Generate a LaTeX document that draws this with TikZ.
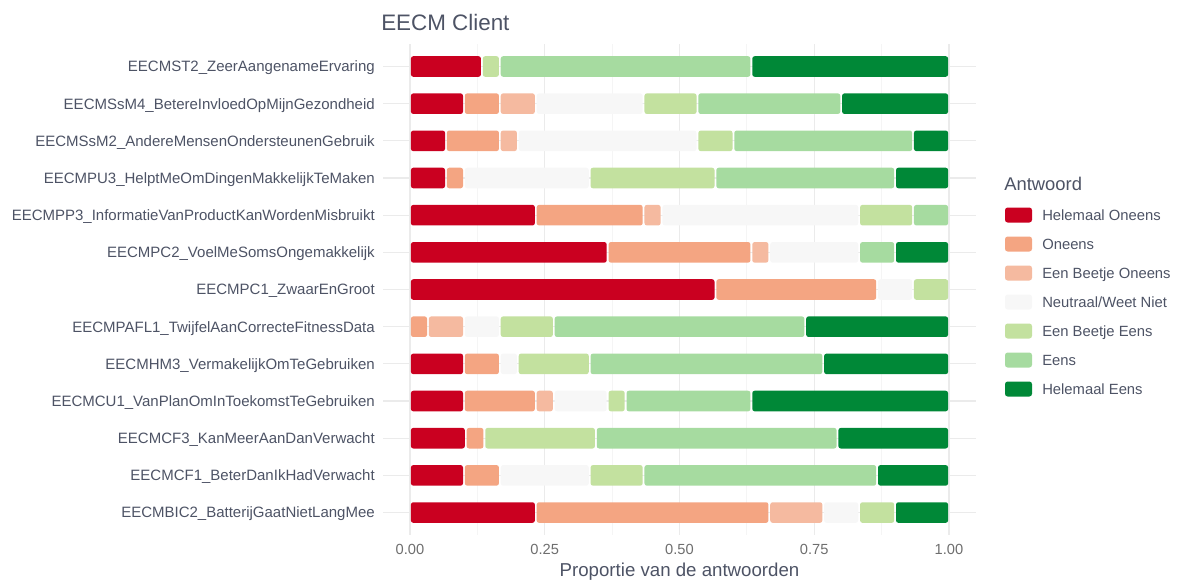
\documentclass[tikz,border=0pt]{standalone}
\usepackage{fontspec}
\setmainfont{Liberation Sans}
\usepackage{tikz}

\definecolor{ho}{HTML}{CA0020}
\definecolor{on}{HTML}{F4A582}
\definecolor{eo}{HTML}{F5BAA0}
\definecolor{nt}{HTML}{F7F7F7}
\definecolor{eb}{HTML}{C3E19F}
\definecolor{ee}{HTML}{A6DBA0}
\definecolor{he}{HTML}{008837}
\definecolor{txt}{HTML}{4D5365}
\definecolor{tck}{HTML}{6E6E6E}

\tikzset{
  major/.style={draw=black!8, line width=0.9pt},
  minor/.style={draw=black!4, line width=0.6pt},
  ylab/.style={anchor=base east, inner sep=0pt, text=txt, font=\fontsize{11.25}{13}\selectfont},
  ticklab/.style={anchor=base, inner sep=0pt, text=tck, font=\fontsize{11}{13}\selectfont},
  legtext/.style={anchor=base west, inner sep=0pt, text=txt, font=\fontsize{11.1}{13}\selectfont}
}

% one piece of a bar: from, to (counts), colour
\newcommand{\barseg}[3]{%
  \ifdim #2pt>#1pt
    \fill[#3, rounded corners=1.8pt] ({\xo+\xs*#1/\n+0.9},{\y-10.3}) rectangle ({\xo+\xs*#2/\n-0.9},{\y+10.3});
  \fi}

\begin{document}
\begin{tikzpicture}[x=0.75pt,y=-0.75pt]
  \useasboundingbox (0,0) rectangle (1177,579);
  \def\xo{410}
  \def\xs{539}

  % grid
  \foreach \v in {0.125,0.375,0.625,0.875}
    \draw[minor] ({\xo+\xs*\v},44.2) -- ({\xo+\xs*\v},534.8);
  \foreach \v in {0,0.25,0.5,0.75,1}
    \draw[major] ({\xo+\xs*\v},44.2) -- ({\xo+\xs*\v},534.8);

  % rows: label / n / HO / O / EBO / N / EBE / E / HE
  \foreach \lab/\n/\a/\b/\c/\d/\e/\f/\g [count=\i] in {
      EECMST2\_ZeerAangenameErvaring/30/4/0/0/0/1/14/11,
      EECMSsM4\_BetereInvloedOpMijnGezondheid/30/3/2/2/6/3/8/6,
      EECMSsM2\_AndereMensenOndersteunenGebruik/30/2/3/1/10/2/10/2,
      EECMPU3\_HelptMeOmDingenMakkelijkTeMaken/30/2/1/0/7/7/10/3,
      EECMPP3\_InformatieVanProductKanWordenMisbruikt/30/7/6/1/11/3/2/0,
      EECMPC2\_VoelMeSomsOngemakkelijk/30/11/8/1/5/0/2/3,
      EECMPC1\_ZwaarEnGroot/30/17/9/0/2/2/0/0,
      EECMPAFL1\_TwijfelAanCorrecteFitnessData/30/0/1/2/2/3/14/8,
      EECMHM3\_VermakelijkOmTeGebruiken/30/3/2/0/1/4/13/7,
      EECMCU1\_VanPlanOmInToekomstTeGebruiken/30/3/4/1/3/1/7/11,
      EECMCF3\_KanMeerAanDanVerwacht/29/3/1/0/0/6/13/6,
      EECMCF1\_BeterDanIkHadVerwacht/30/3/2/0/5/3/13/4,
      EECMBIC2\_BatterijGaatNietLangMee/30/7/13/3/2/2/0/3}{
    \pgfmathsetmacro\y{66.5+(\i-1)*37.17}
    \draw[major] (383,\y) -- (976,\y);
    \node[ylab] (lab\i) at (375,{\y+5.4}) {\lab};
    \pgfmathsetmacro\ca{\a}
    \pgfmathsetmacro\cb{\ca+\b}
    \pgfmathsetmacro\cc{\cb+\c}
    \pgfmathsetmacro\cd{\cc+\d}
    \pgfmathsetmacro\ce{\cd+\e}
    \pgfmathsetmacro\cf{\ce+\f}
    \pgfmathsetmacro\cg{\cf+\g}
    \barseg{0}{\ca}{ho}
    \barseg{\ca}{\cb}{on}
    \barseg{\cb}{\cc}{eo}
    \barseg{\cc}{\cd}{nt}
    \barseg{\cd}{\ce}{eb}
    \barseg{\ce}{\cf}{ee}
    \barseg{\cf}{\cg}{he}
  }

  % axis
  \foreach \v/\t [count=\k] in {0/0.00,0.25/0.25,0.5/0.50,0.75/0.75,1/1.00}
    \node[ticklab] (tick\k) at ({\xo+\xs*\v},554.5) {\t};
  \node[anchor=base, inner sep=0pt, text=txt, font=\fontsize{14}{17}\selectfont] (xtitle) at (679.5,576) {Proportie van de antwoorden};
  \node[anchor=base west, inner sep=0pt, text=txt, font=\fontsize{16.8}{20}\selectfont] (title) at (381,30) {EECM Client};

  % legend
  \node[anchor=base west, inner sep=0pt, text=txt, font=\fontsize{13.8}{16}\selectfont] (legtitle) at (1004,190.5) {Antwoord};
  \foreach \col/\txt [count=\k] in {ho/Helemaal Oneens, on/Oneens, eo/Een Beetje Oneens,
      nt/{Neutraal/Weet Niet}, eb/Een Beetje Eens, ee/Eens, he/Helemaal Eens}{
    \pgfmathsetmacro\ly{215+(\k-1)*29}
    \fill[\col, rounded corners=2pt] (1005,{\ly-7.5}) rectangle (1032,{\ly+7.5});
    \node[legtext] (leg\k) at (1042,{\ly+5.3}) {\txt};
  }
\end{tikzpicture}
\end{document}
